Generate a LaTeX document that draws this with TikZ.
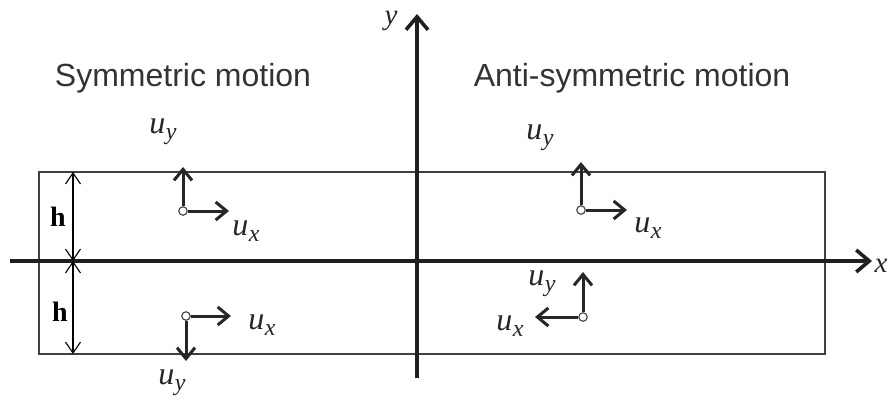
\documentclass[tikz,border=0pt]{standalone}
\usepackage{fontspec}
\newfontfamily\titlefont{Liberation Sans}
\newfontfamily\mfont{Liberation Serif}
\newcommand{\uvar}[1]{{\mfont\itshape u\kern0.5pt\raisebox{-0.2em}{\fontsize{24}{26}\selectfont #1}}}
\usetikzlibrary{arrows.meta}
\begin{document}
\begin{tikzpicture}[x=1pt,y=-1pt,
  axis/.style={line width=3.6pt,draw=black!88,-{Straight Barb[length=13pt,width=22pt,line width=3.6pt]}},
  vec/.style={line width=3pt,draw=black!85,-{Straight Barb[length=11pt,width=18pt,line width=3pt]}},
  harr/.style={line width=1.1pt,{Straight Barb[length=11pt,width=15pt,line width=1.1pt]}-{Straight Barb[length=11pt,width=15pt,line width=1.1pt]}},
  pt/.style={circle,draw=black!75,line width=1.1pt,fill=white,inner sep=0pt,minimum size=8.5pt},
  mlab/.style={font=\mfont\fontsize{32}{34}\selectfont,text=black!85,inner sep=0pt},
  axlab/.style={font=\mfont\itshape\fontsize{29}{31}\selectfont,text=black!85,inner sep=0pt},
  ttl/.style={font=\titlefont\fontsize{32}{34}\selectfont,text=black!80,inner sep=0pt},
  hlab/.style={font=\mfont\fontsize{28}{30}\selectfont\bfseries,inner sep=0pt}]
\useasboundingbox (0,0) rectangle (890,408);
% box
\draw[line width=1.5pt,draw=black!75] (39,172) rectangle (825,354);
% axes
\coordinate (xl) at (10,261);
\coordinate (xr) at (872,261);
\coordinate (yb) at (417,378);
\coordinate (yt) at (417,14);
\draw[axis] (xl) -- (xr);
\draw[axis] (yb) -- (yt);
\node[axlab] (xlab) at (881,266) {x};
\node[axlab] (ylab) at (391,21) {y};
% titles
\node[ttl,anchor=base] (t1) at (183,86) {Symmetric motion};
\node[ttl,anchor=base] (t2) at (632,86) {Anti-symmetric motion};
% h arrows
\coordinate (h1t) at (73,172);
\coordinate (h1m) at (73,261);
\coordinate (h1b) at (73,354);
\draw[harr] (h1t) -- (h1m);
\draw[harr] (h1m) -- (h1b);
\node[hlab] (hl1) at (58,217) {h};
\node[hlab] (hl2) at (60,312) {h};
% symmetric top
\node[pt] (s1) at (183,211) {};
\coordinate (s1u) at (183,167);
\coordinate (s1r) at (229,211);
\draw[vec] (s1) -- (s1u);
\draw[vec] (s1) -- (s1r);
\node[mlab] (s1uy) at (163,132) {\uvar{y}};
\node[mlab] (s1ux) at (246,231) {\uvar{x}};
% symmetric bottom
\node[pt] (s2) at (186,316) {};
\coordinate (s2r) at (231,316);
\coordinate (s2d) at (186,361);
\draw[vec] (s2) -- (s2r);
\draw[vec] (s2) -- (s2d);
\node[mlab] (s2ux) at (262,325) {\uvar{x}};
\node[mlab] (s2uy) at (172,383) {\uvar{y}};
% anti top
\node[pt] (a1) at (581,210) {};
\coordinate (a1u) at (581,162);
\coordinate (a1r) at (627,210);
\draw[vec] (a1) -- (a1u);
\draw[vec] (a1) -- (a1r);
\node[mlab] (a1uy) at (540,138) {\uvar{y}};
\node[mlab] (a1ux) at (648,228) {\uvar{x}};
% anti bottom
\node[pt] (a2) at (583,317) {};
\coordinate (a2u) at (583,272);
\coordinate (a2l) at (535,317);
\draw[vec] (a2) -- (a2u);
\draw[vec] (a2) -- (a2l);
\node[mlab] (a2uy) at (542,284) {\uvar{y}};
\node[mlab] (a2ux) at (510,326) {\uvar{x}};
\end{tikzpicture}
\end{document}
